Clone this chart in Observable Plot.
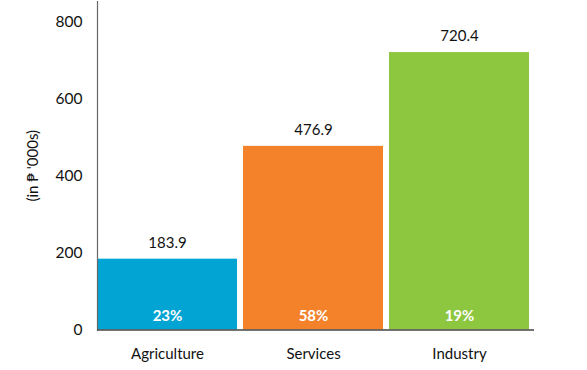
<!DOCTYPE html>
<html>
<head>
<meta charset="utf-8">
<script src="https://cdn.jsdelivr.net/npm/d3@7"></script>
<script src="https://cdn.jsdelivr.net/npm/@observablehq/plot@0.6"></script>
<style>
  body { margin: 0; background: #fff; }
  svg { display: block; }
</style>
</head>
<body>
<div id="chart"></div>
<script>
const sectors = ["Agriculture", "Services", "Industry"];
const values = [183.9, 476.9, 720.4];
const shares = ["23%", "58%", "19%"];
const colors = ["#02a4d3", "#f3822b", "#8dc63f"];
const yTicks = [0, 200, 400, 600, 800];
const yLabel = "(in ₱ '000s)";

const data = sectors.map((s, i) => ({sector: s, value: values[i], share: shares[i]}));
const font = "Lato, 'Noto Sans', sans-serif";

const chart = Plot.plot({
  width: 587,
  height: 370,
  marginTop: 1,
  marginLeft: 97,
  marginRight: 53,
  marginBottom: 40.5,
  style: {fontFamily: font, fontSize: "15px", color: "#111", background: "#fff"},
  x: {domain: sectors, paddingInner: 0.044, paddingOuter: 0.01, align: 0},
  y: {domain: [0, 853]},
  color: {domain: sectors, range: colors},
  marks: [
    Plot.barY(data, {x: "sector", y: "value", fill: "sector"}),
    Plot.text(data, {x: "sector", y: "value", text: d => d.value.toFixed(1), dy: -16, fontSize: 15, fill: "#111"}),
    Plot.text(data, {x: "sector", y: 0, text: "share", dy: -14, fontSize: 15, fontWeight: "bold", fill: "#fff"}),
    Plot.axisY({ticks: yTicks, tickSize: 0, tickPadding: 15, label: null, fontSize: 15.5}),
    Plot.axisX({tickSize: 0, tickPadding: 18, label: null, fontSize: 15}),
    Plot.text([yLabel], {frameAnchor: "left", textAnchor: "middle", rotate: -90, dx: -64, fontSize: 15, fill: "#111"}),
    Plot.frame({anchor: "left", stroke: "#666", strokeWidth: 1.2}),
    Plot.ruleY([0], {stroke: "#444", strokeWidth: 1.5})
  ]
});
document.getElementById("chart").appendChild(chart);
</script>
</body>
</html>
